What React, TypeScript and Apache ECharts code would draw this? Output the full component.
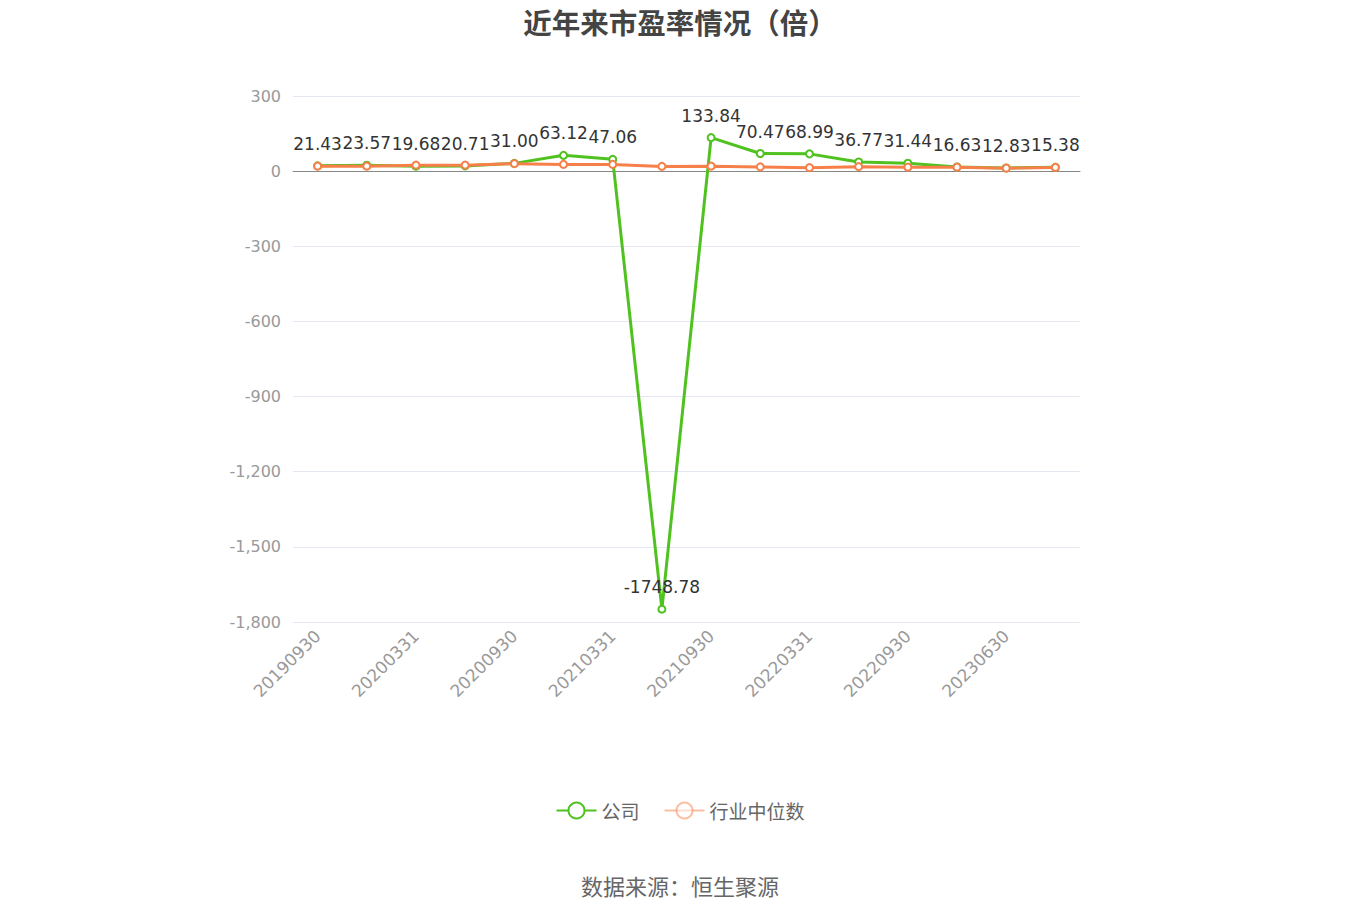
import { useEffect, useRef } from 'react';
import * as echarts from 'echarts';

const categories = [
    '20190930', '20191231', '20200331', '20200630', '20200930', '20201231',
    '20210331', '20210630', '20210930', '20211231', '20220331', '20220630',
    '20220930', '20230331', '20230630', '20230930',
];
const companyPE = [
    21.43, 23.57, 19.68, 20.71, 31.0, 63.12, 47.06, -1748.78,
    133.84, 70.47, 68.99, 36.77, 31.44, 16.63, 12.83, 15.38,
];
const industryPE = [20, 20, 24, 24, 30, 27, 27, 19, 20, 17, 14, 18, 16, 16, 12, 15];

const CJK = '"Noto Sans CJK SC", "Noto Sans", sans-serif';
const NUM = '"DejaVu Sans", "Noto Sans CJK SC", sans-serif';

const App = () => {
    const chartRef = useRef<HTMLDivElement>(null);

    useEffect(() => {
        document.body.style.margin = '0';
        if (!chartRef.current) return;
        const chart = echarts.init(chartRef.current, null, { renderer: 'svg' });

        chart.setOption({
            animation: false,
            textStyle: { fontFamily: CJK },
            title: {
                text: '近年来市盈率情况（倍）',
                left: 'center',
                top: 2,
                textStyle: { fontSize: 28.5, fontWeight: 'bold', color: '#444', fontFamily: CJK },
            },
            grid: { left: 293, right: 280, top: 96, bottom: 298 },
            legend: {
                bottom: 95,
                left: 'center',
                itemWidth: 40,
                itemHeight: 20,
                itemGap: 24,
                textStyle: { fontSize: 19, color: '#666', fontFamily: CJK },
                data: [
                    { name: '公司' },
                    { name: '行业中位数', itemStyle: { opacity: 0.5 }, lineStyle: { opacity: 0.5 } },
                ],
            },
            graphic: [
                {
                    type: 'text',
                    left: 'center',
                    top: 874,
                    style: { text: '数据来源：恒生聚源', fontSize: 22, fill: '#666', fontFamily: CJK },
                },
            ],
            xAxis: {
                type: 'category',
                data: categories,
                boundaryGap: true,
                axisLine: { onZero: true, lineStyle: { color: '#888' } },
                axisTick: { alignWithLabel: true, interval: 1, length: 6, lineStyle: { color: '#888' } },
                axisLabel: { interval: 1, rotate: 45, fontSize: 17, color: '#999', margin: 11, fontFamily: NUM },
            },
            yAxis: {
                type: 'value',
                min: -1800,
                max: 300,
                interval: 300,
                axisLine: { show: false },
                axisTick: { show: false },
                axisLabel: { fontSize: 16, color: '#999', margin: 12, fontFamily: NUM },
                splitLine: { lineStyle: { color: '#e3e8f3' } },
            },
            series: [
                {
                    name: '公司',
                    type: 'line',
                    data: companyPE,
                    symbol: 'emptyCircle',
                    symbolSize: 7,
                    itemStyle: { color: '#4fc21f', borderWidth: 2 },
                    lineStyle: { width: 3, color: '#4fc21f' },
                    label: {
                        show: true,
                        position: 'top',
                        distance: 9,
                        fontSize: 17,
                        color: '#333',
                        fontFamily: NUM,
                        formatter: (p: any) => p.value.toFixed(2),
                    },
                    z: 2,
                },
                {
                    name: '行业中位数',
                    type: 'line',
                    data: industryPE,
                    symbol: 'emptyCircle',
                    symbolSize: 7,
                    itemStyle: { color: '#f7804a', borderWidth: 2 },
                    lineStyle: { width: 3, color: '#f7804a' },
                    z: 3,
                },
            ],
        });

        return () => {
            chart.dispose();
        };
    }, []);

    return <div ref={chartRef} style={{ width: '1360px', height: '920px' }} />;
};

export default App;
